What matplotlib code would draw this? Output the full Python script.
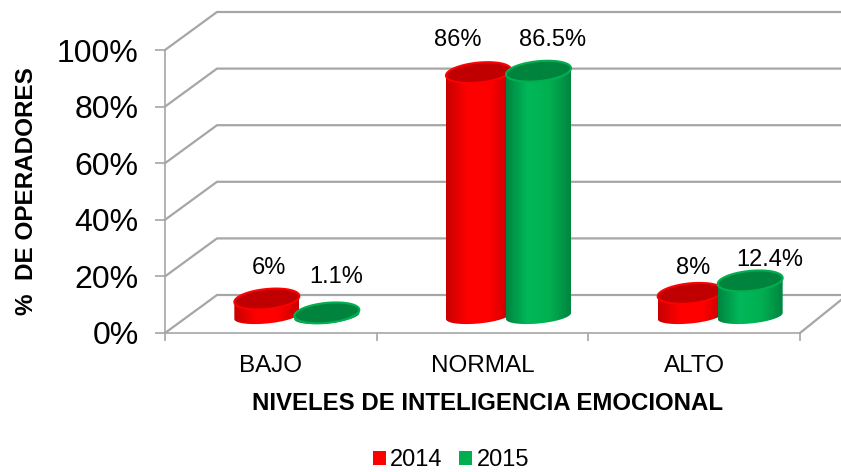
"""Recreate the 3D-look cylinder chart of emotional intelligence levels."""

import matplotlib
matplotlib.use("Agg")
import matplotlib.pyplot as plt
import numpy as np
from matplotlib.colors import LinearSegmentedColormap
from matplotlib.patches import Patch, Polygon

FIG_W = 841
FIG_H = 472

CATEGORIES = ["BAJO", "NORMAL", "ALTO"]
YEARS = ["2014", "2015"]
VALUES_2014 = [6, 86, 8]
VALUES_2015 = [1.1, 86.5, 12.4]
LABELS_2014 = ["6%", "86%", "8%"]
LABELS_2015 = ["1.1%", "86.5%", "12.4%"]
Y_TICKS = [0, 20, 40, 60, 80, 100]

# axes box in pixels
AX_LEFT, AX_RIGHT, AX_TOP, AX_BOTTOM = 165, 800, 50, 333
PX_X = (AX_RIGHT - AX_LEFT) / 3
PX_Y = (AX_BOTTOM - AX_TOP) / 100

GRAY = "#a6a6a6"
RED_TOP, RED_EDGE = "#c00000", "#ff0000"
GREEN_TOP, GREEN_EDGE = "#00843d", "#00b050"
CMAP_RED = LinearSegmentedColormap.from_list("r", ["#c80000", "#ff0000", "#ff0000", "#c80000"])
CMAP_GREEN = LinearSegmentedColormap.from_list("g", ["#008540", "#00b85a", "#00b050", "#008540"])

plt.rcParams["font.family"] = ["Liberation Sans", "DejaVu Sans"]


def ellipse_xy(xc, yc, a_px, b_px, t):
    """Tilted ellipse points in data units, sizes given in pixels."""
    x = xc + a_px * np.cos(t) / PX_X
    y = yc + (b_px * np.sin(t) + 3 * np.cos(t)) / PX_Y
    return x, y


def draw_cylinder(ax, xc, value, cmap, top_color, edge_color, zorder):
    base = 17 / PX_Y
    top = base + value
    a_px = 32.5
    t_low = np.linspace(np.pi, 2 * np.pi, 60)
    x_base, y_base = ellipse_xy(xc, base, a_px, 7.5, t_low)
    side = np.column_stack([
        np.r_[x_base, x_base[-1], x_base[0]],
        np.r_[y_base, top + (y_base[-1] - base), top + (y_base[0] - base)],
    ])
    patch = Polygon(side, closed=True, facecolor="none", edgecolor="none", zorder=zorder)
    ax.add_patch(patch)
    grad = ax.imshow(
        np.linspace(0, 1, 64).reshape(1, -1),
        extent=(xc - a_px / PX_X, xc + a_px / PX_X, base - 12 / PX_Y, top + 6 / PX_Y),
        aspect="auto",
        cmap=cmap,
        zorder=zorder,
    )
    grad.set_clip_path(patch)
    t_all = np.linspace(0, 2 * np.pi, 120)
    x_cap, y_cap = ellipse_xy(xc, top, a_px, 10, t_all)
    ax.add_patch(Polygon(np.column_stack([x_cap, y_cap]), closed=True, facecolor=top_color,
                         edgecolor=edge_color, linewidth=1.5, zorder=zorder + 0.1))


fig = plt.figure(figsize=(FIG_W / 100, FIG_H / 100), dpi=100, facecolor="white")
ax = fig.add_axes([
    AX_LEFT / FIG_W,
    1 - AX_BOTTOM / FIG_H,
    (AX_RIGHT - AX_LEFT) / FIG_W,
    (AX_BOTTOM - AX_TOP) / FIG_H,
])
ax.patch.set_alpha(0)

# walls and floor of the fake 3D box
depth_x = 52 / PX_X
depth_y = 38 / PX_Y
right_end = (841 - AX_LEFT) / PX_X
for tick in Y_TICKS:
    ax.plot([0, depth_x, right_end], [tick, tick + depth_y, tick + depth_y],
            color=GRAY, lw=1.6, clip_on=False, zorder=1, solid_joinstyle="miter")
ax.plot([3, right_end], [0, 33 / PX_Y], color=GRAY, lw=1.6, clip_on=False, zorder=1)

# bars and their value labels
LABEL_OFFSETS_2014 = [(2, -31), (-21, -33), (3, -25)]
LABEL_OFFSETS_2015 = [(9, -36), (14, -31), (20, -21)]
for i, cat in enumerate(CATEGORIES):
    x_red = i + 0.5 - 4 / PX_X
    x_green = i + 0.5 + 56 / PX_X
    draw_cylinder(ax, x_red, VALUES_2014[i], CMAP_RED, RED_TOP, RED_EDGE, 3)
    draw_cylinder(ax, x_green, VALUES_2015[i], CMAP_GREEN, GREEN_TOP, GREEN_EDGE, 4)
    for xc, val, lab, off in [
        (x_red, VALUES_2014[i], LABELS_2014[i], LABEL_OFFSETS_2014[i]),
        (x_green, VALUES_2015[i], LABELS_2015[i], LABEL_OFFSETS_2015[i]),
    ]:
        ax.annotate(lab, (xc, val + 17 / PX_Y), xytext=(off[0] * 0.72, -off[1] * 0.72),
                    textcoords="offset points", ha="center", va="center",
                    fontsize=17, color="black", zorder=6, clip_on=False)

ax.set_xlim(0, 3)
ax.set_ylim(0, 100)
ax.set_yticks(Y_TICKS)
ax.set_yticklabels([f"{t}%" for t in Y_TICKS], fontsize=23, color="black")
ax.set_xticks([0, 1, 2, 3])
ax.set_xticklabels([])
ax.set_xticks([0.5, 1.5, 2.5], minor=True)
ax.set_xticklabels(CATEGORIES, minor=True, fontsize=17.5, color="black")
ax.tick_params(axis="x", which="minor", length=0, pad=15.5)
ax.tick_params(axis="x", which="major", length=6, width=1.2, color=GRAY)
ax.tick_params(axis="y", length=7, width=1.2, color=GRAY, pad=12)
for side in ("top", "right"):
    ax.spines[side].set_visible(False)
for side in ("left", "bottom"):
    ax.spines[side].set_color(GRAY)
    ax.spines[side].set_linewidth(1.2)

fig.text(487 / FIG_W, 1 - 403 / FIG_H, "NIVELES DE INTELIGENCIA EMOCIONAL",
         ha="center", va="center", fontsize=17.3, fontweight="bold", color="black")
fig.text(27 / FIG_W, 1 - 191 / FIG_H, "%  DE OPERADORES", rotation=90,
         ha="center", va="center", fontsize=17.5, fontweight="bold", color="black")

handles = [Patch(facecolor=RED_EDGE, label=YEARS[0]), Patch(facecolor=GREEN_EDGE, label=YEARS[1])]
fig.legend(handles=handles, loc="center", bbox_to_anchor=(451 / FIG_W, 1 - 460 / FIG_H), ncol=2,
           frameon=False, fontsize=17, handlelength=0.55, handleheight=0.55,
           handletextpad=0.2, columnspacing=0.7, borderpad=0, borderaxespad=0)

fig.savefig("out.png", dpi=100)
plt.close(fig)
